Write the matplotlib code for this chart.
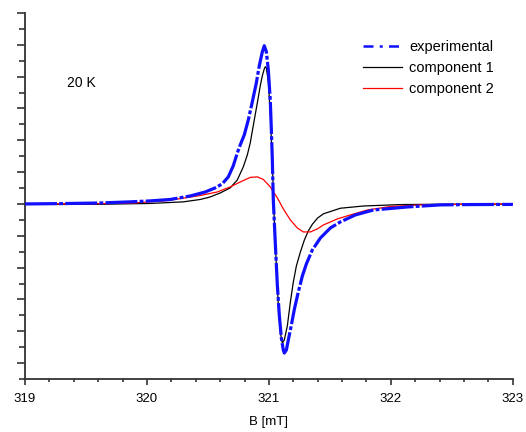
# EPR spectrum at 20 K: experimental trace and its two fitted components
import matplotlib.pyplot as plt
from matplotlib.lines import Line2D
from matplotlib.ticker import MultipleLocator

plt.rcParams['font.family'] = ['Liberation Sans', 'DejaVu Sans']

# magnetic field (mT) and signal (arb. units)
b_exp = [319.000, 319.287, 319.616, 319.862, 320.026, 320.190, 320.355, 320.478,
         320.560, 320.617, 320.667, 320.708, 320.741, 320.765, 320.798, 320.831,
         320.864, 320.897, 320.921, 320.946, 320.962, 320.979, 320.995, 321.011,
         321.020, 321.028, 321.036, 321.053, 321.069, 321.085, 321.102, 321.118,
         321.126, 321.143, 321.159, 321.184, 321.209, 321.241, 321.274, 321.307,
         321.356, 321.422, 321.504, 321.586, 321.709, 321.857, 322.136, 322.407,
         322.653, 323.000]
s_exp = [0.00, 0.02, 0.06, 0.13, 0.19, 0.28, 0.50, 0.75,
         1.01, 1.26, 1.70, 2.40, 3.21, 3.71, 4.34, 5.28,
         6.42, 7.61, 8.68, 9.56, 9.94, 9.56, 8.43, 6.54,
         4.65, 2.77, 0.25, -2.58, -5.09, -6.98, -8.43, -9.18,
         -9.37, -9.18, -8.55, -7.61, -6.60, -5.53, -4.53, -3.77,
         -2.89, -2.14, -1.51, -1.13, -0.69, -0.38, -0.19, -0.06,
         -0.04, -0.03]

b_c1 = [319.000, 319.616, 320.026, 320.297, 320.437, 320.519, 320.601, 320.683,
        320.741, 320.790, 320.823, 320.847, 320.880, 320.905, 320.929, 320.946,
        320.962, 320.970, 320.979, 320.995, 321.011, 321.028, 321.044, 321.061,
        321.077, 321.094, 321.110, 321.126, 321.151, 321.176, 321.200, 321.225,
        321.258, 321.291, 321.323, 321.356, 321.400, 321.447, 321.586, 321.775,
        322.079, 322.383, 323.000]
s_c1 = [-0.02, -0.02, 0.03, 0.13, 0.28, 0.44, 0.69, 1.01,
        1.51, 2.33, 3.08, 3.84, 5.28, 6.35, 7.42, 8.05,
        8.49, 8.62, 8.55, 7.67, 5.72, 2.58, -1.01, -3.84,
        -6.35, -8.11, -8.74, -8.55, -7.67, -6.16, -4.91, -3.90,
        -3.02, -2.26, -1.70, -1.28, -0.88, -0.62, -0.27, -0.13,
        -0.04, -0.02, -0.01]

b_c2 = [319.000, 319.616, 319.887, 320.166, 320.437, 320.576, 320.683, 320.765,
        320.847, 320.905, 320.954, 321.011, 321.069, 321.118, 321.176, 321.233,
        321.282, 321.340, 321.397, 321.447, 321.562, 321.668, 321.808, 321.997,
        322.243, 322.571, 323.000]
s_c2 = [0.00, 0.02, 0.06, 0.21, 0.53, 0.75, 1.07, 1.38,
        1.67, 1.70, 1.54, 1.07, 0.38, -0.31, -1.01, -1.51,
        -1.76, -1.76, -1.57, -1.32, -0.94, -0.69, -0.38, -0.16,
        -0.06, -0.02, 0.00]

blue = '#1010ff'
fig = plt.figure(figsize=(5.26, 4.32), dpi=100)
ax = fig.add_axes([0.0475, 0.1227, 0.9275, 0.8473])

ax.plot(b_c1, s_c1, color='black', lw=0.9, zorder=2)
ax.plot(b_c2, s_c2, color='red', lw=0.9, zorder=3)
# dense experimental points make the dash-dot trace look almost solid
ax.plot(b_exp, s_exp, color=blue, lw=2.3, dashes=(10, 0.7, 1.2, 0.7), zorder=4)

ax.set_xlim(319, 323)
ax.set_ylim(-11, 12)
ax.xaxis.set_major_locator(MultipleLocator(1))
ax.xaxis.set_minor_locator(MultipleLocator(0.2))
ax.yaxis.set_major_locator(MultipleLocator(2))
ax.yaxis.set_minor_locator(MultipleLocator(1))
ax.set_yticklabels([])
ax.tick_params(axis='y', which='major', length=6, width=1.2, color='#333333')
ax.tick_params(axis='y', which='minor', length=4, width=1.2, color='#333333')
ax.tick_params(axis='x', which='major', length=4, width=1.2, color='#333333',
               labelsize=9.5, pad=6)
ax.tick_params(axis='x', which='minor', length=2.5, width=1.2, color='#333333')

for side in ['top', 'right']:
    ax.spines[side].set_visible(False)
for side in ['left', 'bottom']:
    ax.spines[side].set_linewidth(1.3)
    ax.spines[side].set_color('#333333')

ax.set_xlabel('B [mT]', fontsize=9.5, labelpad=8)
ax.text(0.087, 0.81, '20 K', transform=ax.transAxes, fontsize=10, va='center')

handles = [Line2D([], [], color=blue, lw=1.8, dashes=(4, 2.5, 1.2, 2.5)),
           Line2D([], [], color='black', lw=0.9),
           Line2D([], [], color='red', lw=0.9)]
labels = ['experimental', 'component 1', 'component 2']
ax.legend(handles, labels, loc='upper left', bbox_to_anchor=(0.665, 0.963),
          frameon=False, fontsize=10.5, handlelength=2.7, handletextpad=0.5,
          labelspacing=0.5)

plt.savefig('out.png', dpi=100)
